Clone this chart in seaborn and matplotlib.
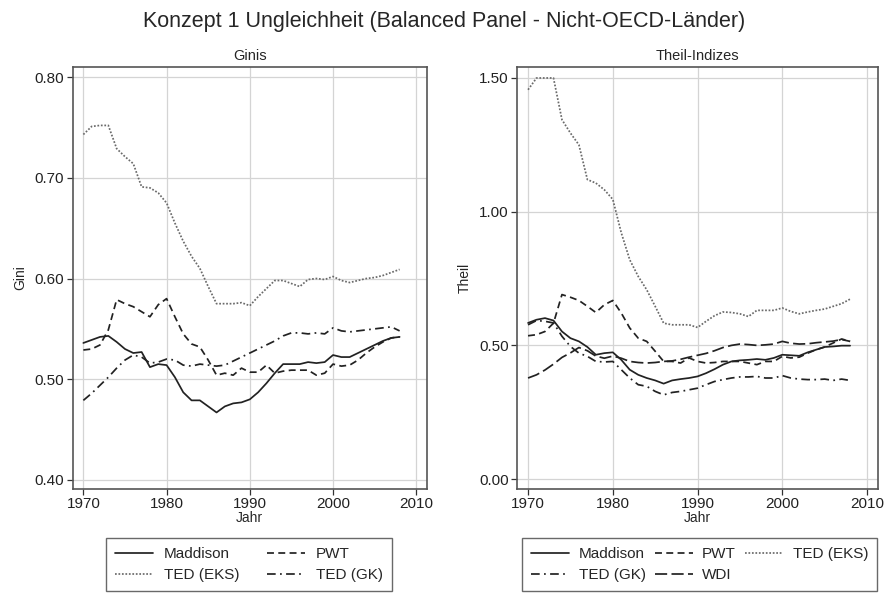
import pandas as pd
import seaborn as sns
import matplotlib.pyplot as plt

# Jahre 1970-2008
years = list(range(1970, 2009))

# Ginis
gini_maddison = [0.536, 0.539, 0.542, 0.543, 0.537, 0.530, 0.526, 0.527, 0.512, 0.515,
                 0.514, 0.502, 0.487, 0.479, 0.479, 0.473, 0.467, 0.473, 0.476, 0.477,
                 0.480, 0.487, 0.496, 0.506, 0.515, 0.515, 0.515, 0.517, 0.516, 0.517,
                 0.524, 0.522, 0.522, 0.526, 0.530, 0.534, 0.538, 0.541, 0.542]
gini_pwt = [0.529, 0.530, 0.534, 0.549, 0.579, 0.575, 0.572, 0.567, 0.562, 0.574,
            0.580, 0.562, 0.545, 0.535, 0.532, 0.519, 0.504, 0.506, 0.504, 0.511,
            0.507, 0.507, 0.514, 0.506, 0.508, 0.509, 0.509, 0.509, 0.504, 0.506,
            0.515, 0.513, 0.514, 0.519, 0.526, 0.532, 0.537, 0.541, 0.542]
gini_ted_eks = [0.743, 0.751, 0.752, 0.752, 0.729, 0.721, 0.714, 0.691, 0.690, 0.685,
                0.675, 0.655, 0.637, 0.622, 0.610, 0.592, 0.575, 0.575, 0.575, 0.576,
                0.573, 0.582, 0.590, 0.598, 0.598, 0.595, 0.592, 0.599, 0.600, 0.599,
                0.602, 0.598, 0.596, 0.598, 0.600, 0.601, 0.603, 0.606, 0.609]
gini_ted_gk = [0.479, 0.486, 0.494, 0.502, 0.511, 0.519, 0.524, 0.522, 0.516, 0.517,
               0.520, 0.519, 0.514, 0.513, 0.515, 0.514, 0.513, 0.514, 0.518, 0.522,
               0.526, 0.530, 0.534, 0.538, 0.543, 0.546, 0.546, 0.545, 0.546, 0.545,
               0.551, 0.548, 0.547, 0.548, 0.549, 0.550, 0.551, 0.552, 0.548]

# Theil-Indizes
theil_maddison = [0.584, 0.596, 0.602, 0.593, 0.552, 0.527, 0.515, 0.494, 0.465, 0.471,
                  0.474, 0.446, 0.409, 0.390, 0.378, 0.369, 0.357, 0.369, 0.374, 0.378,
                  0.384, 0.396, 0.411, 0.428, 0.440, 0.444, 0.446, 0.449, 0.446, 0.453,
                  0.465, 0.463, 0.461, 0.474, 0.484, 0.494, 0.496, 0.499, 0.499]
theil_pwt = [0.536, 0.540, 0.552, 0.583, 0.690, 0.680, 0.668, 0.646, 0.623, 0.652,
             0.668, 0.621, 0.565, 0.527, 0.515, 0.478, 0.440, 0.440, 0.434, 0.453,
             0.440, 0.434, 0.436, 0.440, 0.440, 0.440, 0.434, 0.428, 0.440, 0.440,
             0.459, 0.453, 0.456, 0.471, 0.484, 0.494, 0.509, 0.524, 0.515]
theil_ted_eks = [1.456, 1.500, 1.500, 1.500, 1.344, 1.294, 1.250, 1.120, 1.107, 1.082,
                 1.046, 0.921, 0.820, 0.758, 0.708, 0.646, 0.583, 0.577, 0.577, 0.577,
                 0.567, 0.590, 0.611, 0.625, 0.623, 0.618, 0.608, 0.631, 0.631, 0.631,
                 0.640, 0.627, 0.618, 0.625, 0.631, 0.636, 0.646, 0.656, 0.673]
theil_ted_gk = [0.577, 0.593, 0.590, 0.584, 0.534, 0.496, 0.471, 0.459, 0.440, 0.438,
                0.440, 0.409, 0.378, 0.353, 0.347, 0.328, 0.315, 0.324, 0.328, 0.334,
                0.340, 0.353, 0.365, 0.372, 0.378, 0.382, 0.382, 0.384, 0.378, 0.378,
                0.387, 0.378, 0.374, 0.372, 0.372, 0.374, 0.369, 0.374, 0.369]
theil_wdi = [0.378, 0.390, 0.408, 0.430, 0.455, 0.472, 0.492, 0.480, 0.460, 0.452,
             0.460, 0.452, 0.440, 0.436, 0.434, 0.436, 0.440, 0.442, 0.448, 0.456,
             0.463, 0.470, 0.480, 0.492, 0.500, 0.505, 0.503, 0.500, 0.502, 0.505,
             0.515, 0.508, 0.505, 0.506, 0.510, 0.513, 0.516, 0.522, 0.515]

gini_series = {"Maddison": gini_maddison, "PWT": gini_pwt,
               "TED (EKS)": gini_ted_eks, "TED (GK)": gini_ted_gk}
theil_series = {"Maddison": theil_maddison, "PWT": theil_pwt,
                "TED (EKS)": theil_ted_eks, "TED (GK)": theil_ted_gk,
                "WDI": theil_wdi}

dashes = {"Maddison": "", "PWT": (4, 2.5), "TED (EKS)": (1, 1),
          "TED (GK)": (5, 2.5, 1, 2.5), "WDI": (7, 2.5)}
palette = {"Maddison": "#222222", "PWT": "#222222", "TED (EKS)": "#6a6a6a",
           "TED (GK)": "#222222", "WDI": "#222222"}


def long_df(series, valname):
    frames = []
    for name, vals in series.items():
        frames.append(pd.DataFrame({"Jahr": years, valname: vals, "Serie": name}))
    return pd.concat(frames, ignore_index=True)


sns.set_style("white")
plt.rcParams['font.family'] = ['Liberation Sans', 'DejaVu Sans']

fig = plt.figure(figsize=(8.89, 5.93), dpi=100)
ax1 = fig.add_axes([0.0816, 0.1754, 0.3988, 0.7116])
ax2 = fig.add_axes([0.5816, 0.1754, 0.4061, 0.7116])

gini_df = long_df(gini_series, "Gini")
theil_df = long_df(theil_series, "Theil")

sns.lineplot(data=gini_df, x="Jahr", y="Gini", hue="Serie", style="Serie",
             hue_order=list(gini_series), style_order=list(gini_series),
             palette=palette, dashes=dashes, linewidth=1.25, legend=False, ax=ax1)
sns.lineplot(data=theil_df, x="Jahr", y="Theil", hue="Serie", style="Serie",
             hue_order=list(theil_series), style_order=list(theil_series),
             palette=palette, dashes=dashes, linewidth=1.25, legend=False, ax=ax2)

for ax, yt, ylim, title in [(ax1, [0.40, 0.50, 0.60, 0.70, 0.80], (0.391, 0.81), "Ginis"),
                            (ax2, [0.0, 0.5, 1.0, 1.5], (-0.037, 1.541), "Theil-Indizes")]:
    ax.set_xlim(1968.7, 2011.3)
    ax.set_ylim(*ylim)
    ax.set_xticks([1970, 1980, 1990, 2000, 2010])
    ax.set_yticks(yt)
    ax.set_yticklabels(["{:.2f}".format(v) for v in yt])
    ax.grid(True, color="#d4d4d4", linewidth=0.9)
    ax.set_axisbelow(True)
    ax.tick_params(axis="both", which="both", direction="out", length=4, width=0.9,
                   color="#333333", labelsize=11, pad=2, bottom=True, left=True,
                   labelcolor="#222222")
    for sp in ax.spines.values():
        sp.set_color("#555555")
        sp.set_linewidth(1.2)
    ax.set_title(title, fontsize=10.5, pad=5)
    ax.set_xlabel("Jahr", fontsize=10, labelpad=0)
    ax.set_ylabel(ax.get_ylabel(), fontsize=10, labelpad=5)

fig.suptitle("Konzept 1 Ungleichheit (Balanced Panel - Nicht-OECD-Länder)",
             fontsize=15.5, y=0.982)

# Legenden (zeilenweise Reihenfolge wie im Original)
h1 = dict(zip(gini_series, ax1.lines))
order1 = ["Maddison", "TED (EKS)", "PWT", "TED (GK)"]
leg1 = fig.legend([h1[k] for k in order1], order1, loc="lower center",
                  bbox_to_anchor=(0.280, 0.0), ncol=2, fontsize=11,
                  frameon=True, fancybox=False, edgecolor="#444444",
                  handlelength=2.5, columnspacing=1.8, borderpad=0.6,
                  labelspacing=0.45, handletextpad=0.7, borderaxespad=0.1)
leg1.get_frame().set_linewidth(1.0)

h2 = dict(zip(theil_series, ax2.lines))
order2 = ["Maddison", "TED (GK)", "PWT", "WDI", "TED (EKS)"]
leg2 = fig.legend([h2[k] for k in order2], order2, loc="lower center",
                  bbox_to_anchor=(0.787, 0.0), ncol=3, fontsize=11,
                  frameon=True, fancybox=False, edgecolor="#444444",
                  handlelength=2.5, columnspacing=0.6, borderpad=0.6,
                  labelspacing=0.45, handletextpad=0.6, borderaxespad=0.1)
leg2.get_frame().set_linewidth(1.0)

plt.savefig("out.png", dpi=100)
